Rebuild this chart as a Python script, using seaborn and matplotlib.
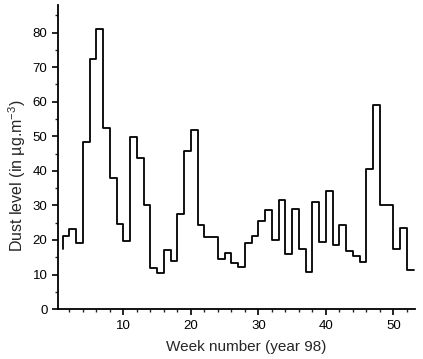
import matplotlib
matplotlib.use("Agg")
import matplotlib.pyplot as plt
from matplotlib.ticker import MultipleLocator
import seaborn as sns
import pandas as pd

# Weekly dust level (µg/m^3), weeks 1..52 (value of week k spans [k, k+1])
weeks = list(range(1, 53))
dust = [21.2, 23.3, 19.0, 48.5, 72.4, 81.0, 52.4, 37.8, 24.5, 19.7,
        49.9, 43.7, 30.0, 11.8, 10.5, 17.1, 13.9, 27.4, 45.7, 51.7,
        24.3, 20.9, 20.9, 14.4, 16.1, 13.4, 12.2, 19.0, 21.1, 25.4,
        28.7, 20.1, 31.5, 15.9, 29.0, 17.3, 10.8, 31.0, 19.4, 34.3,
        18.6, 24.3, 16.8, 15.4, 13.7, 40.5, 59.2, 30.2, 30.2, 17.5,
        23.6, 11.3]
start_value = 17.5  # level at the start of the trace

x_ticks = [10, 20, 30, 40, 50]
y_ticks = [0, 10, 20, 30, 40, 50, 60, 70, 80]

sns.set_style("ticks")
plt.rcParams['font.family'] = ['Liberation Sans', 'DejaVu Sans']
plt.rcParams['mathtext.fontset'] = 'custom'
plt.rcParams['mathtext.rm'] = 'Liberation Sans'
plt.rcParams['mathtext.it'] = 'Liberation Sans:italic'

# steps-pre: each value is drawn over the interval ending at its x
df = pd.DataFrame({
    "edge": weeks + [weeks[-1] + 1],
    "level": [start_value] + dust,
})

fig = plt.figure(figsize=(4.23, 3.59), dpi=100)
ax = fig.add_axes([0.137, 0.139, 0.844, 0.847])
sns.lineplot(data=df, x="edge", y="level", ax=ax, color="black",
             linewidth=1.3, drawstyle="steps-pre", sort=False)

ax.set_xlim(0.3, 53.2)
ax.set_ylim(0, 88)
ax.set_xticks(x_ticks)
ax.set_yticks(y_ticks)
ax.xaxis.set_minor_locator(MultipleLocator(2))
ax.yaxis.set_minor_locator(MultipleLocator(5))
ax.tick_params(axis='both', which='major', direction='out', length=4,
               width=1.2, labelsize=9.5, colors='black')
ax.tick_params(axis='both', which='minor', direction='out', length=2.5,
               width=1.0)
for s in ['top', 'right']:
    ax.spines[s].set_visible(False)
for s in ['left', 'bottom']:
    ax.spines[s].set_linewidth(1.3)
    ax.spines[s].set_color('black')

ax.set_xlabel("Week number (year 98)", fontsize=11)
ax.set_ylabel("Dust level (in µg.m$^{-3}$)", fontsize=11.5)
ax.xaxis.set_label_coords(0.527, -0.1)
ax.yaxis.set_label_coords(-0.085, 0.44)

fig.savefig("out.png", dpi=100)
